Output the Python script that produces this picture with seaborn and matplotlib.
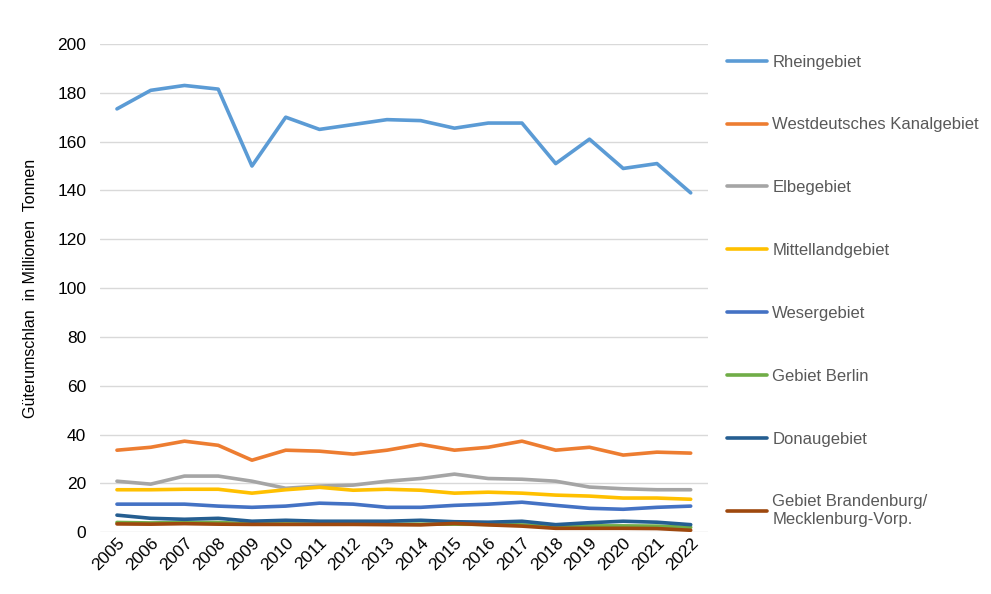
import matplotlib
matplotlib.use("Agg")
import matplotlib.pyplot as plt
import seaborn as sns
import pandas as pd

years = list(range(2005, 2023))
rhein = [173.4, 181, 183, 181.5, 150, 170, 165, 167, 169, 168.6, 165.5, 167.6, 167.6, 151, 161, 149, 151, 139]
westdeutsch = [33.6, 34.8, 37.3, 35.6, 29.5, 33.6, 33.2, 32, 33.6, 36, 33.6, 34.8, 37.3, 33.6, 34.8, 31.6, 32.8, 32.4]
elbe = [20.9, 19.7, 23, 23, 20.9, 18, 18.9, 19.3, 20.9, 22, 23.8, 22, 21.7, 20.9, 18.5, 17.8, 17.4, 17.4]
mittelland = [17.4, 17.4, 17.6, 17.6, 16, 17.4, 18.4, 17.2, 17.6, 17.2, 16, 16.4, 16, 15.2, 14.8, 14, 14, 13.5]
weser = [11.5, 11.5, 11.5, 10.7, 10.2, 10.7, 11.9, 11.5, 10.2, 10.2, 11, 11.5, 12.3, 11, 9.8, 9.4, 10.2, 10.7]
berlin = [4.0, 3.8, 4.0, 4.0, 3.4, 3.4, 3.3, 3.3, 3.3, 3.3, 3.3, 3.2, 3.0, 2.6, 2.6, 2.6, 2.5, 2.0]
donau = [7.0, 5.7, 5.3, 5.7, 4.5, 4.9, 4.5, 4.5, 4.5, 4.9, 4.3, 4.1, 4.5, 3.1, 3.9, 4.5, 4.1, 3.1]
brandenburg = [3.4, 3.3, 3.5, 3.3, 3.2, 3.2, 3.2, 3.2, 3.1, 3.0, 3.6, 3.0, 2.5, 1.6, 1.6, 1.6, 1.5, 0.8]

series_names = ["Rheingebiet", "Westdeutsches Kanalgebiet", "Elbegebiet", "Mittellandgebiet",
                "Wesergebiet", "Gebiet Berlin", "Donaugebiet", "Gebiet Brandenburg/\nMecklenburg-Vorp."]
series_values = [rhein, westdeutsch, elbe, mittelland, weser, berlin, donau, brandenburg]
colors = ["#5B9BD5", "#ED7D31", "#A5A5A5", "#FFC000", "#4472C4", "#70AD47", "#255E91", "#9E480E"]
ytick_vals = list(range(0, 201, 20))

rows = []
for name, vals in zip(series_names, series_values):
    for y, v in zip(years, vals):
        rows.append({"Jahr": y, "Wert": v, "Gebiet": name})
df = pd.DataFrame(rows)

sns.set_theme(style="white")
plt.rcParams['font.family'] = ['Liberation Sans', 'DejaVu Sans']

fig = plt.figure(figsize=(9.91, 5.94), dpi=100)
ax = fig.add_axes([0.101, 0.104, 0.613, 0.822])

sns.lineplot(data=df, x="Jahr", y="Wert", hue="Gebiet", hue_order=series_names,
             palette=colors, linewidth=2.6, ax=ax, legend=True, sort=False)

ax.set_ylim(0, 200)
ax.set_xlim(2004.5, 2022.5)
ax.set_yticks(ytick_vals)
ax.set_yticklabels([str(v) for v in ytick_vals], fontsize=12.5, color="#000000")
ax.set_xticks(years)
ax.set_xticklabels([str(y) for y in years], rotation=45, ha="right", rotation_mode="anchor",
                   fontsize=12.5, color="#000000")
ax.tick_params(axis="x", pad=2, length=0)
ax.tick_params(axis="y", pad=10, length=0)
ax.grid(axis="y", color="#D9D9D9", linewidth=1)
ax.set_axisbelow(True)
for s in ax.spines.values():
    s.set_visible(False)
ax.set_xlabel("")
ax.set_ylabel("Güterumschlan  in Millionen  Tonnen", fontsize=11.5, color="#000000", labelpad=14)

handles, labels = ax.get_legend_handles_labels()
ax.legend(handles, labels, loc="upper left", bbox_to_anchor=(0.718, 0.9335),
          bbox_transform=fig.transFigure, frameon=False, fontsize=12,
          labelcolor="#595959", handlelength=2.4, handletextpad=0.35, labelspacing=2.87)

fig.savefig("out.png", dpi=100)
